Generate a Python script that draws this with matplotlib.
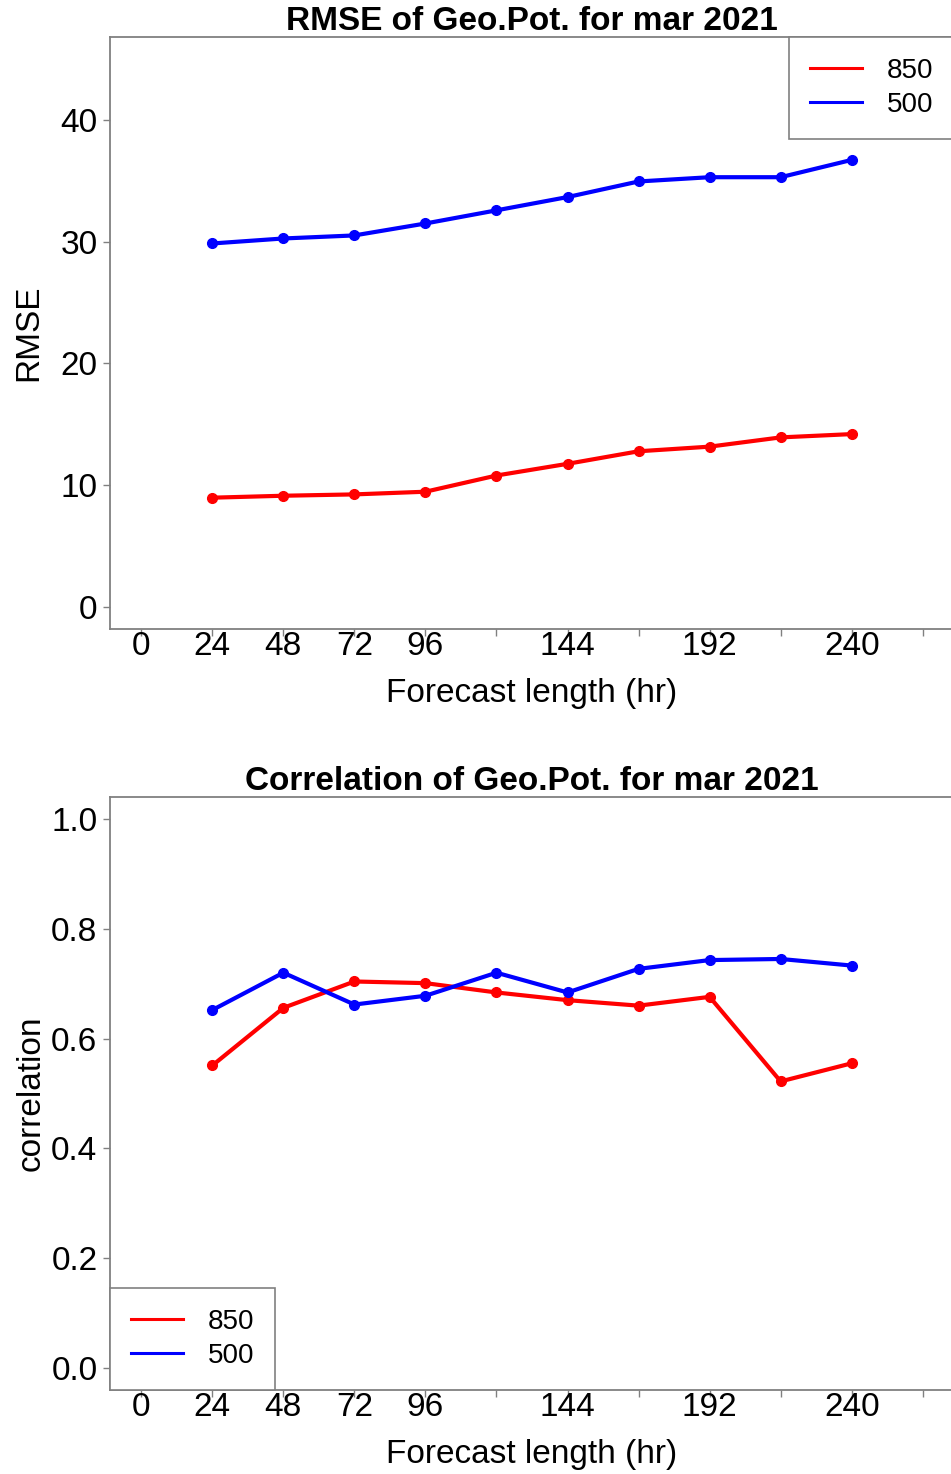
import matplotlib
matplotlib.use("Agg")
import matplotlib.pyplot as plt
from matplotlib import font_manager

names = {f.name for f in font_manager.fontManager.ttflist}
fam = ['Liberation Sans Narrow'] if 'Liberation Sans Narrow' in names else []
plt.rcParams['font.family'] = fam + ['Liberation Sans', 'DejaVu Sans']

# ---- data ----
hours = [24, 48, 72, 96, 120, 144, 168, 192, 216, 240]
levels = ['850', '500']
rmse_850 = [8.98, 9.14, 9.25, 9.47, 10.80, 11.76, 12.79, 13.17, 13.93, 14.20]
rmse_500 = [29.85, 30.26, 30.51, 31.49, 32.57, 33.66, 34.94, 35.29, 35.29, 36.71]
corr_850 = [0.551, 0.656, 0.704, 0.701, 0.684, 0.670, 0.660, 0.676, 0.522, 0.555]
corr_500 = [0.652, 0.720, 0.662, 0.678, 0.720, 0.684, 0.727, 0.743, 0.745, 0.733]
xticks = [0, 24, 48, 72, 96, 120, 144, 168, 192, 216, 240, 264]
xticklabels = ['0', '24', '48', '72', '96', '', '144', '', '192', '', '240', '']
rmse_ticks = [0, 10, 20, 30, 40]
corr_ticks = [0.0, 0.2, 0.4, 0.6, 0.8, 1.0]
corr_ticklabels = ['0.0', '0.2', '0.4', '0.6', '0.8', '1.0']
colors = ['#ff0000', '#0000ff']

W, H = 951, 1474
fig = plt.figure(figsize=(W / 100, H / 100), dpi=100)

gray = '#808080'
FS = 24


def style(ax):
    for s in ['left', 'top', 'bottom']:
        ax.spines[s].set_color(gray)
        ax.spines[s].set_linewidth(1.3)
    ax.spines['right'].set_visible(False)
    ax.tick_params(axis='both', colors=gray, labelcolor='black', length=5,
                   width=1.0, labelsize=FS)
    ax.tick_params(axis='x', pad=-3.5)
    ax.tick_params(axis='y', pad=4)
    ax.set_xlim(-10.56, 274.56)
    ax.set_xticks(xticks)
    ax.set_xticklabels(xticklabels)
    ax.set_xlabel('Forecast length (hr)', fontsize=FS, labelpad=11.5)


def legend(ax, loc):
    leg = ax.legend(loc=loc, fontsize=20, frameon=True, fancybox=False,
                    edgecolor=gray, framealpha=1, borderaxespad=0,
                    handlelength=1.87, handletextpad=0.9, borderpad=0.75,
                    labelspacing=0.3)
    leg.get_frame().set_linewidth(1.2)
    for h in leg.get_lines():
        h.set_linewidth(2.2)
        h.set_marker('')


ax1 = fig.add_axes([110 / W, 1 - 629 / H, 844 / W, 592 / H])
for vals, c, lab in zip([rmse_850, rmse_500], colors, levels):
    ax1.plot(hours, vals, color=c, lw=3, marker='o', ms=7, label=lab)
style(ax1)
ax1.set_ylim(-1.8, 46.8)
ax1.set_yticks(rmse_ticks)
ax1.set_ylabel('RMSE', fontsize=FS, labelpad=11.5)
ax1.set_title('RMSE of Geo.Pot. for mar 2021', fontsize=FS, fontweight='bold', pad=2)
legend(ax1, 'upper right')

ax2 = fig.add_axes([110 / W, 1 - 1390 / H, 844 / W, 593 / H])
for vals, c, lab in zip([corr_850, corr_500], colors, levels):
    ax2.plot(hours, vals, color=c, lw=3, marker='o', ms=7, label=lab)
style(ax2)
ax2.set_ylim(-0.04, 1.04)
ax2.set_yticks(corr_ticks)
ax2.set_yticklabels(corr_ticklabels)
ax2.set_ylabel('correlation', fontsize=FS, labelpad=3)
ax2.set_title('Correlation of Geo.Pot. for mar 2021', fontsize=FS, fontweight='bold', pad=1)
legend(ax2, 'lower left')

fig.savefig('out.png', dpi=100)
